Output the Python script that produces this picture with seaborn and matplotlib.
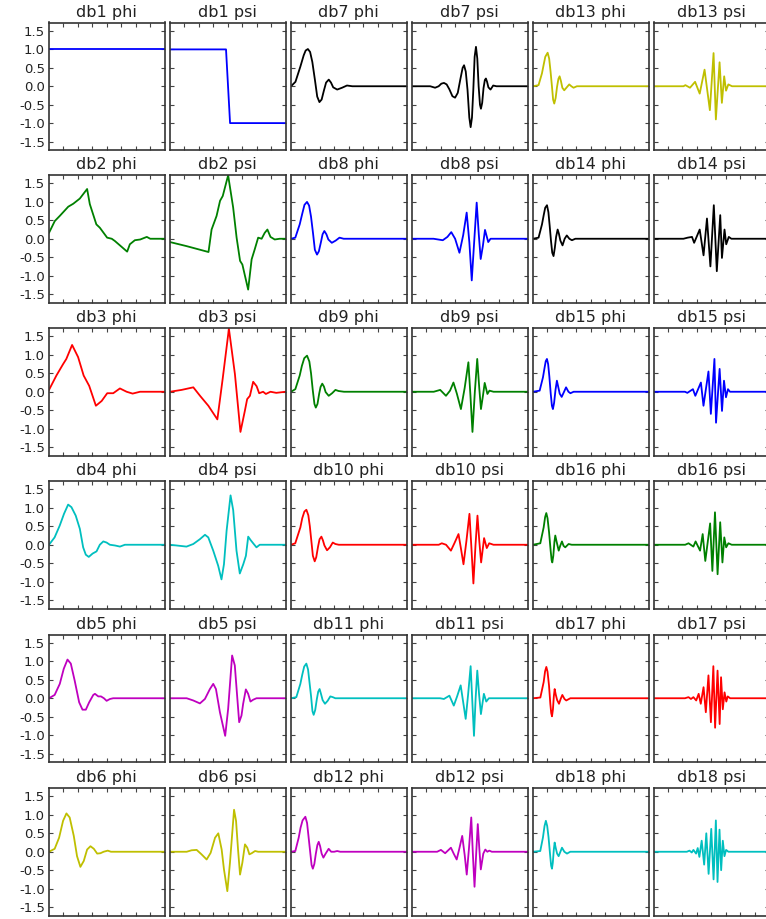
import matplotlib
matplotlib.use("Agg")
import matplotlib.pyplot as plt
import seaborn as sns
import numpy as np

# ---------------- data ----------------
db1_phi_x = [0, 1.0]
db1_phi_y = [1.0, 1.0]
db1_psi_x = [0, 0.485, 0.52, 1.0]
db1_psi_y = [1.0, 1.0, -1.0, -1.0]

db2_phi_x = [0, 0.15, 0.28, 0.5, 0.63, 0.8, 0.99, 1.06, 1.23, 1.32, 1.51, 1.63, 1.71, 2.03, 2.1, 2.23, 2.37, 2.54, 2.63, 3.0]
db2_phi_y = [0.16, 0.48, 0.62, 0.87, 0.95, 1.09, 1.35, 0.94, 0.39, 0.30, 0.03, 0.0, -0.06, -0.35, -0.15, -0.04, -0.02, 0.05, 0.0, 0.0]
db2_psi_x = [0, 0.43, 1.0, 1.08, 1.21, 1.3, 1.37, 1.51, 1.64, 1.73, 1.82, 1.88, 2.03, 2.12, 2.2, 2.29, 2.38, 2.46, 2.53, 2.61, 2.72, 2.85, 3.0]
db2_psi_y = [-0.09, -0.2, -0.36, 0.25, 0.62, 1.03, 1.16, 1.72, 0.85, 0.03, -0.6, -0.7, -1.38, -0.56, -0.29, 0.03, 0.0, 0.16, 0.25, 0.05, -0.02, 0.0, 0.0]

db3_phi_x = [0, 0.32, 0.61, 0.75, 1.0, 1.26, 1.5, 1.74, 2.03, 2.28, 2.52, 2.78, 3.07, 3.36, 3.62, 3.94, 5.0]
db3_phi_y = [0.05, 0.44, 0.75, 0.89, 1.27, 0.94, 0.44, 0.16, -0.38, -0.25, -0.04, -0.04, 0.09, 0.0, -0.05, 0.0, 0.0]
db3_psi_x = [0, 0.5, 1.01, 1.3, 1.66, 2.05, 2.28, 2.55, 2.81, 3.05, 3.24, 3.34, 3.46, 3.6, 3.75, 3.86, 4.03, 4.15, 4.35, 4.6, 5.0]
db3_psi_y = [0, 0.05, 0.12, -0.11, -0.38, -0.75, 0.35, 1.71, 0.48, -1.09, -0.52, -0.2, -0.11, 0.27, 0.15, -0.04, 0.0, -0.06, 0.0, -0.03, 0.0]

db4_phi_x = [0, 0.34, 0.65, 0.91, 1.16, 1.36, 1.62, 1.87, 2.07, 2.23, 2.41, 2.64, 2.88, 3.08, 3.29, 3.49, 3.69, 4.0, 4.3, 4.6, 7.0]
db4_phi_y = [0, 0.2, 0.52, 0.84, 1.09, 1.02, 0.79, 0.43, -0.07, -0.27, -0.33, -0.24, -0.18, 0.0, 0.09, 0.06, 0.0, -0.02, -0.05, 0.0, 0.0]
db4_psi_x = [0, 1.0, 1.41, 1.81, 2.12, 2.32, 2.62, 2.92, 3.12, 3.27, 3.43, 3.67, 3.83, 4.03, 4.23, 4.44, 4.6, 4.74, 4.88, 5.04, 5.24, 5.44, 7.0]
db4_psi_y = [0, -0.05, 0.02, 0.15, 0.27, 0.2, -0.16, -0.57, -0.94, -0.53, 0.38, 1.34, 0.94, -0.16, -0.78, -0.53, -0.3, 0.22, 0.13, 0.04, -0.07, 0.0, 0.0]

db5_phi_x = [0, 0.44, 0.84, 1.15, 1.44, 1.7, 2.0, 2.35, 2.61, 2.87, 3.13, 3.45, 3.58, 3.84, 4.05, 4.28, 4.49, 4.75, 5.0, 9.0]
db5_phi_y = [0, 0.09, 0.39, 0.8, 1.05, 0.94, 0.48, -0.11, -0.31, -0.31, -0.11, 0.09, 0.12, 0.05, 0.05, 0.0, -0.07, -0.02, 0.0, 0.0]
db5_psi_x = [0, 1.3, 1.81, 2.33, 2.72, 3.11, 3.37, 3.58, 3.89, 4.3, 4.53, 4.84, 5.05, 5.23, 5.39, 5.57, 5.7, 5.91, 6.09, 6.27, 6.48, 6.74, 9.0]
db5_psi_y = [0, 0, -0.06, -0.14, -0.02, 0.25, 0.39, 0.25, -0.38, -1.02, -0.29, 1.16, 0.89, 0.07, -0.65, -0.47, -0.15, 0.24, 0.12, -0.09, -0.04, 0.0, 0.0]

db6_phi_x = [0, 0.54, 0.96, 1.34, 1.66, 1.97, 2.36, 2.67, 2.99, 3.31, 3.63, 3.95, 4.27, 4.59, 4.9, 5.2, 5.6, 5.9, 11.0]
db6_phi_y = [0, 0.08, 0.38, 0.84, 1.04, 0.93, 0.43, -0.12, -0.41, -0.25, 0.06, 0.15, 0.08, -0.05, -0.04, 0.0, 0.03, 0.0, 0.0]
db6_psi_x = [0, 1.59, 2.06, 2.54, 3.0, 3.49, 3.87, 4.29, 4.6, 4.92, 5.14, 5.46, 5.71, 6.1, 6.29, 6.48, 6.67, 6.89, 7.14, 7.36, 7.56, 7.78, 8.1, 8.4, 11.0]
db6_psi_y = [0, 0, 0.04, 0.05, -0.07, -0.21, -0.03, 0.38, 0.5, 0.06, -0.48, -1.07, -0.3, 1.14, 0.84, 0.06, -0.62, -0.3, 0.2, 0.11, -0.07, -0.04, 0.02, 0.0, 0.0]

db7_phi_x = [0, 0.5, 1.05, 1.43, 1.65, 1.9, 2.15, 2.4, 2.7, 2.95, 3.2, 3.45, 3.7, 3.95, 4.25, 4.5, 4.75, 5.2, 5.75, 6.3, 6.9, 13.0]
db7_phi_y = [0, 0.12, 0.53, 0.84, 0.97, 1.01, 0.93, 0.66, 0.16, -0.28, -0.43, -0.36, -0.12, 0.1, 0.18, 0.1, -0.03, -0.09, -0.04, 0.02, 0.0, 0.0]
db7_psi_x = [0, 2.05, 2.6, 3.0, 3.3, 3.6, 3.9, 4.2, 4.55, 4.85, 5.15, 5.45, 5.7, 5.86, 6.05, 6.25, 6.45, 6.6, 6.75, 6.9, 7.05, 7.2, 7.35, 7.5, 7.65, 7.76, 7.9, 8.05, 8.2, 8.32, 8.45, 8.6, 8.84, 9.14, 9.5, 13.0]
db7_psi_y = [0, 0, -0.04, 0, 0.07, 0.09, 0.05, -0.08, -0.27, -0.31, -0.18, 0.2, 0.5, 0.57, 0.4, -0.1, -0.85, -1.11, -0.85, -0.1, 0.8, 1.07, 0.75, 0.0, -0.5, -0.61, -0.45, -0.05, 0.17, 0.21, 0.12, -0.03, -0.09, 0.02, 0.0, 0.0]

db8_phi_x = [0, 0.56, 1.13, 1.45, 1.75, 2.08, 2.35, 2.6, 2.86, 3.1, 3.38, 3.62, 3.9, 4.1, 4.33, 4.6, 4.85, 5.3, 5.8, 6.3, 6.84, 15.0]
db8_phi_y = [0, 0.03, 0.39, 0.67, 0.92, 1.0, 0.9, 0.6, 0.15, -0.3, -0.43, -0.34, -0.08, 0.12, 0.21, 0.12, -0.02, -0.11, -0.05, 0.03, 0.0, 0.0]
db8_psi_x = [0, 2.8, 4.0, 4.6, 5.1, 5.6, 6.16, 6.65, 7.1, 7.45, 7.76, 8.1, 8.4, 8.68, 8.92, 9.2, 9.48, 9.9, 10.2, 10.6, 15.0]
db8_psi_y = [0, 0, -0.04, 0.05, 0.18, 0.0, -0.38, 0.1, 0.71, -0.1, -1.13, 0.0, 0.98, 0.1, -0.55, -0.2, 0.24, -0.09, 0.0, 0.0, 0.0]

db9_phi_x = [0, 0.64, 1.28, 1.6, 1.95, 2.36, 2.7, 2.95, 3.2, 3.45, 3.65, 3.9, 4.15, 4.35, 4.6, 4.85, 5.1, 5.55, 6.05, 6.54, 7.0, 7.8, 17.0]
db9_phi_y = [0, 0.07, 0.44, 0.7, 0.91, 0.98, 0.82, 0.5, 0.05, -0.33, -0.43, -0.33, -0.05, 0.13, 0.22, 0.14, -0.01, -0.11, -0.04, 0.05, 0.02, 0.0, 0.0]
db9_psi_x = [0, 3.2, 4.15, 5.0, 5.6, 6.1, 6.6, 7.2, 7.75, 8.3, 8.6, 8.9, 9.25, 9.6, 9.9, 10.15, 10.45, 10.7, 11.1, 11.4, 12.0, 17.0]
db9_psi_y = [0, 0, 0.05, -0.11, 0.03, 0.25, -0.05, -0.47, 0.1, 0.8, -0.1, -1.09, 0.0, 0.89, 0.1, -0.47, -0.1, 0.24, -0.06, 0.03, 0.0, 0.0]

db10_phi_x = [0, 0.7, 1.54, 1.85, 2.2, 2.53, 2.85, 3.1, 3.35, 3.6, 3.9, 4.15, 4.45, 4.7, 5.0, 5.25, 5.5, 5.93, 6.4, 6.87, 7.3, 7.86, 19.0]
db10_phi_y = [0, 0.04, 0.47, 0.72, 0.9, 0.95, 0.8, 0.5, 0.1, -0.3, -0.45, -0.34, -0.05, 0.15, 0.22, 0.12, -0.02, -0.15, -0.07, 0.06, 0.02, 0.0, 0.0]
db10_psi_x = [0, 4.4, 4.9, 5.6, 6.4, 7.0, 7.65, 8.05, 8.47, 8.95, 9.45, 9.78, 10.1, 10.45, 10.77, 11.07, 11.37, 11.86, 12.3, 12.7, 13.4, 19.0]
db10_psi_y = [0, 0, 0.04, 0.0, -0.16, 0.05, 0.29, -0.1, -0.53, 0.1, 0.84, -0.1, -1.05, 0.0, 0.79, 0.1, -0.48, 0.18, -0.09, 0.04, 0.0, 0.0]

db11_phi_x = [0, 0.97, 1.7, 2.05, 2.4, 2.79, 3.1, 3.35, 3.65, 3.9, 4.12, 4.4, 4.7, 4.95, 5.2, 5.45, 5.75, 6.18, 6.66, 7.15, 7.6, 8.06, 21.0]
db11_phi_y = [0, 0.03, 0.39, 0.64, 0.86, 0.94, 0.78, 0.45, 0.05, -0.35, -0.45, -0.32, -0.02, 0.18, 0.25, 0.12, -0.05, -0.15, -0.07, 0.05, 0.03, 0.0, 0.0]
db11_psi_x = [0, 5.1, 5.8, 6.8, 7.6, 8.2, 8.85, 9.3, 9.76, 10.2, 10.66, 10.97, 11.27, 11.57, 11.87, 12.2, 12.53, 13.07, 13.5, 13.98, 21.0]
db11_psi_y = [0, 0, -0.02, 0.07, -0.2, 0.05, 0.35, -0.1, -0.56, 0.1, 0.87, -0.1, -1.02, 0.0, 0.75, 0.1, -0.43, 0.12, -0.09, 0.0, 0.0]

db12_phi_x = [0, 0.86, 1.53, 1.9, 2.3, 2.86, 3.2, 3.5, 3.8, 4.1, 4.35, 4.65, 4.95, 5.25, 5.52, 5.8, 6.1, 6.45, 6.9, 7.5, 8.0, 8.6, 9.2, 9.8, 23.0]
db12_phi_y = [0, 0.02, 0.38, 0.65, 0.85, 0.95, 0.78, 0.4, 0.02, -0.36, -0.46, -0.33, -0.05, 0.18, 0.27, 0.15, -0.05, -0.16, -0.05, 0.08, 0.0, 0.0, 0.02, 0.0, 0.0]
db12_psi_x = [0, 5.0, 5.76, 6.6, 7.75, 8.3, 8.9, 9.45, 10.0, 10.5, 10.9, 11.35, 11.8, 12.1, 12.45, 12.8, 13.1, 13.4, 13.7, 14.2, 14.6, 15.0, 15.4, 15.9, 23.0]
db12_psi_y = [0, 0, 0.05, -0.04, 0.11, -0.05, -0.21, 0.1, 0.43, -0.1, -0.62, 0.1, 0.93, 0.0, -0.95, 0.0, 0.75, 0.1, -0.48, -0.05, 0.06, 0.0, 0.03, 0.0, 0.0]

db13_phi_x = [0, 1.2, 1.94, 2.3, 2.66, 3.17, 3.5, 3.8, 4.1, 4.35, 4.6, 4.9, 5.2, 5.5, 5.76, 6.05, 6.35, 6.76, 7.3, 7.84, 8.3, 8.78, 9.5, 25.0]
db13_phi_y = [0, 0.03, 0.35, 0.58, 0.8, 0.91, 0.75, 0.4, 0.0, -0.36, -0.47, -0.32, -0.02, 0.2, 0.27, 0.14, -0.04, -0.11, -0.03, 0.05, 0.0, -0.04, 0.0, 0.0]
db13_psi_x = [0, 6.5, 6.9, 7.9, 9.0, 10.0, 11.05, 12.2, 13.0, 13.5, 14.3, 14.8, 15.3, 15.7, 16.2, 17.0, 25.0]
db13_psi_y = [0, 0, 0.03, -0.04, 0.12, -0.2, 0.45, -0.65, 0.9, -0.9, 0.65, -0.45, 0.27, -0.12, 0.05, 0.0, 0.0]

db14_phi_x = [0, 1.3, 2.1, 2.5, 2.85, 3.27, 3.6, 3.9, 4.2, 4.5, 4.8, 5.1, 5.4, 5.76, 6.05, 6.4, 6.9, 7.4, 7.9, 8.5, 9.1, 9.9, 27.0]
db14_phi_y = [0, 0.03, 0.39, 0.64, 0.84, 0.91, 0.72, 0.35, -0.05, -0.38, -0.47, -0.25, 0.05, 0.25, 0.14, -0.05, -0.18, 0.0, 0.09, 0.0, -0.04, 0.0, 0.0]
db14_psi_x = [0, 7.0, 8.0, 9.0, 9.5, 10.8, 11.7, 12.5, 13.3, 14.1, 14.8, 15.6, 16.0, 16.6, 17.0, 17.6, 18.2, 27.0]
db14_psi_y = [0, 0, 0.03, 0.05, -0.11, 0.25, -0.45, 0.55, -0.75, 0.91, -0.88, 0.64, -0.52, 0.25, -0.15, 0.05, 0.0, 0.0]

db15_phi_x = [0, 1.67, 2.5, 2.92, 3.2, 3.5, 3.8, 4.1, 4.45, 4.75, 5.0, 5.3, 5.65, 6.0, 6.3, 6.7, 7.2, 7.8, 8.3, 8.9, 9.4, 10.2, 29.0]
db15_phi_y = [0, 0.03, 0.39, 0.66, 0.83, 0.89, 0.75, 0.42, -0.05, -0.38, -0.47, -0.3, 0.05, 0.3, 0.15, -0.05, -0.14, 0.0, 0.12, 0.0, -0.04, 0.0, 0.0]
db15_psi_x = [0, 7.9, 8.5, 9.9, 10.5, 11.9, 12.55, 13.8, 14.4, 15.3, 15.7, 16.6, 17.2, 17.7, 18.2, 18.7, 19.2, 29.0]
db15_psi_y = [0, 0, -0.03, 0.07, -0.11, 0.25, -0.38, 0.55, -0.6, 0.89, -0.84, 0.62, -0.52, 0.3, -0.15, 0.07, 0.0, 0.0]

db16_phi_x = [0, 1.96, 2.86, 3.25, 3.57, 3.9, 4.3, 4.73, 5.0, 5.18, 5.45, 5.75, 5.98, 6.3, 6.9, 7.3, 7.77, 8.2, 8.66, 9.55, 10.4, 31.0]
db16_phi_y = [0, 0.04, 0.47, 0.75, 0.86, 0.72, 0.35, -0.15, -0.42, -0.48, -0.3, 0.08, 0.25, 0.1, -0.16, -0.03, 0.09, -0.03, -0.07, 0.02, 0.0, 0.0]
db16_psi_x = [0, 8.5, 9.4, 10.7, 11.3, 12.5, 13.2, 13.9, 15.2, 15.8, 16.5, 17.2, 17.9, 18.5, 19.0, 19.5, 20.1, 21.0, 31.0]
db16_psi_y = [0, 0, 0.04, -0.05, 0.09, -0.16, 0.29, -0.44, 0.58, -0.71, 0.88, -0.8, 0.61, -0.48, 0.2, -0.07, 0.04, 0.0, 0.0]

db17_phi_x = [0, 2.1, 3.05, 3.45, 3.81, 4.15, 4.57, 4.95, 5.2, 5.43, 5.7, 5.95, 6.19, 6.5, 6.9, 7.43, 7.9, 8.38, 9.0, 9.5, 10.67, 33.0]
db17_phi_y = [0, 0.02, 0.44, 0.73, 0.85, 0.72, 0.35, -0.15, -0.4, -0.49, -0.3, 0.05, 0.25, 0.1, -0.05, -0.15, -0.02, 0.09, -0.02, -0.06, 0.0, 0.0]
db17_psi_x = [0, 9.0, 10.0, 10.7, 11.4, 12.2, 12.9, 13.5, 14.3, 14.95, 15.7, 16.4, 17.1, 17.6, 18.3, 18.9, 19.3, 19.8, 20.3, 20.8, 21.2, 21.9, 33.0]
db17_psi_y = [0, 0, 0.03, -0.02, 0.03, -0.06, 0.12, -0.15, 0.3, -0.38, 0.62, -0.65, 0.87, -0.8, 0.75, -0.7, 0.57, -0.3, 0.16, -0.09, 0.05, 0.0, 0.0]

db18_phi_x = [0, 2.2, 3.0, 3.5, 3.9, 4.3, 4.7, 5.2, 5.5, 5.75, 6.0, 6.3, 6.56, 6.9, 7.3, 7.77, 8.3, 8.78, 9.5, 10.3, 11.3, 35.0]
db18_phi_y = [0, 0.02, 0.38, 0.7, 0.84, 0.7, 0.4, -0.1, -0.38, -0.46, -0.3, 0.05, 0.25, 0.1, -0.05, -0.12, 0.0, 0.11, 0.0, -0.05, 0.0, 0.0]
db18_psi_x = [0, 10.1, 10.9, 11.6, 12.1, 12.9, 13.4, 13.9, 14.6, 15.35, 16.0, 16.7, 17.5, 18.2, 18.9, 19.4, 20.0, 20.5, 21.0, 21.5, 22.0, 22.7, 35.0]
db18_psi_y = [0, 0, 0.03, -0.02, 0.05, -0.05, 0.1, -0.14, 0.3, -0.35, 0.5, -0.6, 0.62, -0.75, 0.85, -0.82, 0.6, -0.5, 0.3, -0.12, 0.05, 0.0, 0.0]

orders = list(range(1, 19))
kinds = ["phi", "psi"]
color_cycle = ["#0000ff", "#008000", "#ff0000", "#00bfbf", "#bf00bf", "#bfbf00", "#000000"]
y_ticks = [-1.5, -1.0, -0.5, 0.0, 0.5, 1.0, 1.5]
y_tick_labels = ["-1.5", "-1.0", "-0.5", "0.0", "0.5", "1.0", "1.5"]

# ---------------- figure ----------------
sns.set_style("ticks", {"xtick.direction": "in", "ytick.direction": "in",
                        "axes.edgecolor": "#333333"})
plt.rcParams["font.family"] = ["DejaVu Sans"]

W, H = 766, 919
fig = plt.figure(figsize=(W / 100, H / 100), dpi=100)
fig.patch.set_facecolor("white")

col_left = [49, 170, 291, 412, 533, 653.5]
row_top = [22.5, 175, 328, 481, 634.5, 788]
aw, ah = 115.5, 127.5

data = globals()
for n in orders:
    row = (n - 1) % 6
    block = (n - 1) // 6
    L = 2 * n - 1
    color = color_cycle[(n - 1) % 7]
    for k, kind in enumerate(kinds):
        col = block * 2 + k
        xs = data[f"db{n}_{kind}_x"]
        ys = data[f"db{n}_{kind}_y"]
        left = col_left[col] / W
        bottom = 1 - (row_top[row] + ah) / H
        ax = fig.add_axes([left, bottom, aw / W, ah / H])
        sns.lineplot(x=xs, y=ys, ax=ax, color=color, linewidth=1.3,
                     estimator=None, sort=False)
        ax.set_xlim(0, L)
        ax.set_ylim(-1.73, 1.73)
        ax.set_xticks(np.linspace(0, L, 9)[1:-1])
        ax.set_xticklabels([])
        ax.set_yticks(y_ticks)
        if col == 0:
            ax.set_yticklabels(y_tick_labels)
        else:
            ax.set_yticklabels([])
        ax.tick_params(axis="both", direction="in", length=3, width=0.8,
                       color="#444444", labelsize=9.5, labelcolor="#222222",
                       top=True, right=True, pad=3)
        for sp in ax.spines.values():
            sp.set_visible(True)
            sp.set_linewidth(1.2)
            sp.set_color("#333333")
        ax.set_xlabel("")
        ax.set_ylabel("")
        ax.set_title(f"db{n} {kind}", fontsize=11.5, color="#222222", pad=4)

fig.savefig("out.png", dpi=100, facecolor="white")
